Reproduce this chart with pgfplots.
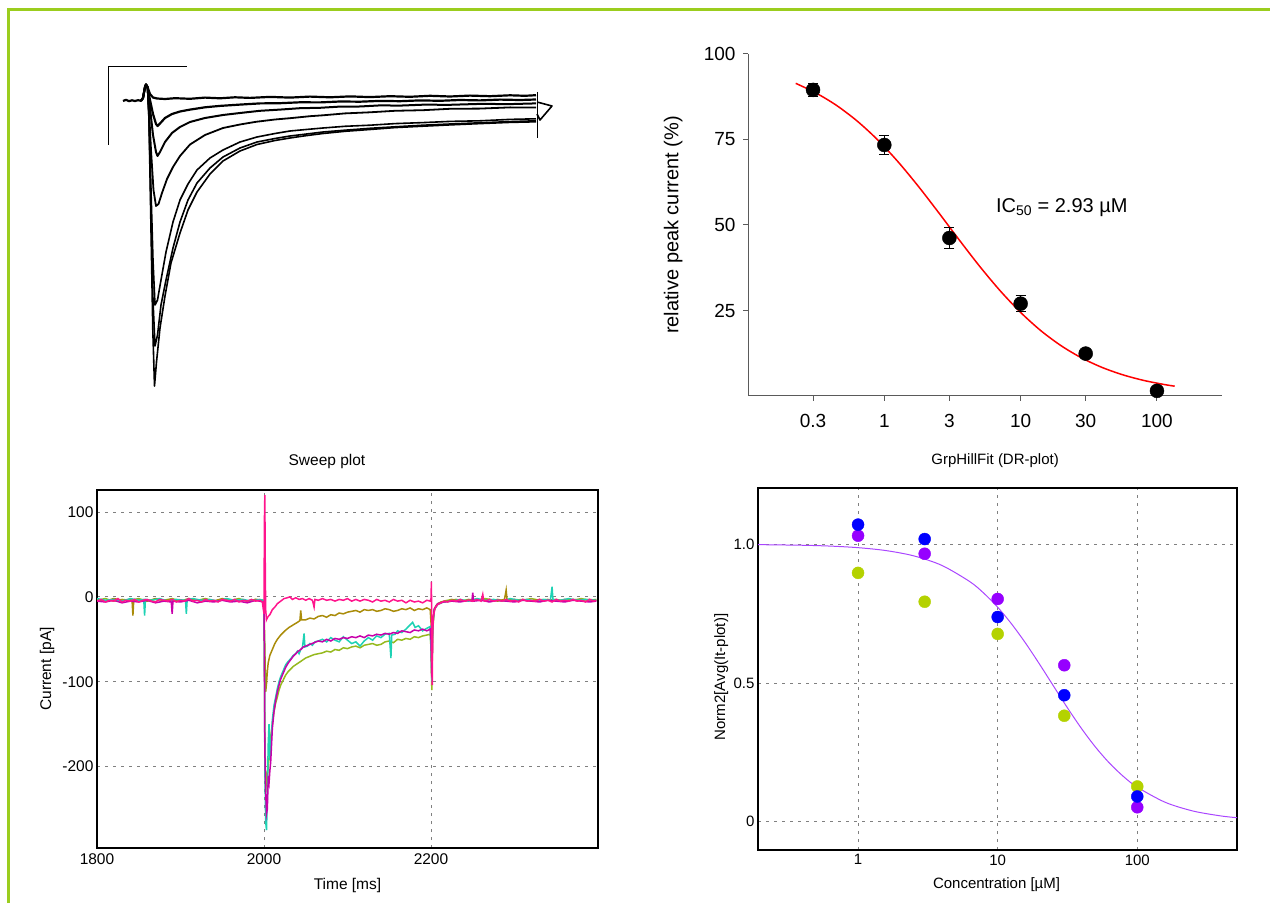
\documentclass[border=0pt]{standalone}
\usepackage{pgfplots}
\pgfplotsset{compat=1.18}
\usepackage{fontspec}
\setmainfont{Liberation Sans}
\definecolor{framegreen}{RGB}{155,205,30}
\definecolor{tpink}{RGB}{255,20,140}
\definecolor{tolive}{RGB}{170,140,10}
\definecolor{tcyan}{RGB}{30,210,180}
\definecolor{tmag}{RGB}{200,0,170}
\definecolor{tgreen}{RGB}{150,185,30}
\definecolor{dblue}{RGB}{0,0,255}
\definecolor{dpurple}{RGB}{150,0,255}
\definecolor{dyg}{RGB}{180,210,0}
\definecolor{fitpurple}{RGB}{170,70,255}
\definecolor{axgray}{RGB}{90,90,90}
\begin{document}
\begin{tikzpicture}
\path[use as bounding box] (0pt,0pt) rectangle (1270pt,903pt);
\draw[framegreen, line width=2.5pt] (8.3pt,0pt) -- (8.3pt,893.5pt) -- (1270pt,893.5pt);

% ---------------- top-left: raw traces (pixel coordinates) ----------------
\begin{axis}[at={(100pt,508pt)}, anchor=south west, scale only axis,
  width=460pt, height=335pt, xmin=100, xmax=560, ymin=60, ymax=395,
  y dir=reverse, hide axis, clip=false]
\addplot[black, line width=1pt] coordinates {(108,145) (108,67) (187,67)};
\addplot[black, line width=2.2pt, line join=round] coordinates {(123,101)(126,99.8)(129,101.2)(132,100.3)(135,101)(138,100.2)(141,100.8)(143,98)(145,87)(146,84.5)(147.5,87)(150,94)(153,97.5)(157,98.5)(165,99)(175,98.2)(190,98.8)(205,97.6)(220,98.3)(235,97.3)(250,97.9)(270,96.9)(290,97.6)(310,96.6)(330,97.3)(350,96.4)(370,97.1)(390,96.2)(410,96.8)(430,95.8)(450,96.5)(470,95.6)(490,96.2)(510,95.3)(525,95.8)(536,95.2)};
\addplot[black, line width=2.2pt, line join=round] coordinates {(141,100.8)(143,98)(145,87)(146,84.5)(147.5,87)(150,100)(153,114)(156,124)(157.5,126)(160,123.5)(165,118)(172,114)(180,111.5)(190,109.6)(205,107.3)(220,105.9)(240,104.6)(260,103.4)(280,103.2)(300,102.3)(320,102.4)(340,101.5)(360,101.7)(380,100.9)(400,101.2)(420,100.4)(440,100.8)(460,100)(480,100.4)(500,99.6)(520,100)(536,99.5)};
\addplot[black, line width=2pt, line join=round] coordinates {(141,100.8)(143,98)(145,87)(146,84.5)(147.5,87)(150,108)(153,135)(156,152)(157.5,156)(160,152)(165,142)(172,133)(180,127)(190,122)(205,118)(223,115)(240,113)(260,110.8)(280,109.6)(300,108.2)(320,107.8)(340,106.6)(360,106.5)(380,105.4)(400,105.6)(423,104.7)(450,104.8)(480,103.9)(510,104.1)(536,103.4)};
\addplot[black, line width=1.8pt, line join=round] coordinates {(141,100.8)(143,98)(145,87)(146,84.5)(147.5,87)(149,110)(151,150)(153.5,190)(156,206)(158.5,204)(162,193)(167,179)(173,167)(180,156)(190,144.5)(205,135)(223,128)(240,124.5)(256,121.8)(275,119.5)(290,118.2)(310,116.2)(323,115.3)(345,113.4)(370,112.3)(395,110.8)(423,110.2)(450,108.8)(480,108.6)(510,107.4)(536,107.5)};
\addplot[black, line width=1.6pt, line join=round] coordinates {(141,100.8)(143,98)(145,87)(146,84.5)(147.5,87)(149,115)(151,190)(153,260)(155,305)(157.5,300)(161,280)(166,252)(173,222)(180,200)(188,184)(197,170)(210,158)(223,150)(240,142)(257,137)(275,133.5)(290,131)(305,129.6)(323,128)(345,126.3)(370,125.2)(395,123.6)(423,122.6)(450,121.4)(480,120.8)(510,119.4)(536,118.8)};
\addplot[black, line width=1.6pt, line join=round] coordinates {(141,100.8)(143,98)(145,87)(146,84.5)(147.5,87)(149,118)(151,210)(153,300)(155,346)(157.5,335)(161,305)(166,280)(173,248)(180,222)(188,200)(197,183)(210,168)(223,157)(240,148)(257,142)(275,138.5)(290,136)(305,134.2)(323,132)(345,130.2)(370,128.3)(395,126.8)(423,125.2)(450,124)(480,122.8)(510,121.6)(536,120.8)};
\addplot[black, line width=1.6pt, line join=round] coordinates {(141,100.8)(143,98)(145,87)(146,84.5)(147.5,87)(149,120)(151,230)(152.8,330)(154.5,386)(156.5,362)(160,328)(165,296)(171,263)(180,233)(188,210)(197,192)(210,174)(223,161)(240,151)(257,144.5)(275,140.5)(290,138)(305,135.8)(323,133.5)(345,131.3)(370,129.5)(395,127.6)(423,126.2)(450,124.9)(480,123.6)(510,122.4)(536,121.8)};
\addplot[black, line width=1pt] coordinates {(537,92)(537,138)};
\addplot[black, line width=1.6pt, line join=round] coordinates {(537,102)(552,106)(540,120)(537,114)};
\end{axis}

% ---------------- top-right: dose response ----------------
\begin{axis}[at={(748pt,507pt)}, anchor=south west, scale only axis,
  width=474pt, height=342pt, xmode=log, xmin=0.1, xmax=300, ymin=0, ymax=100,
  axis x line=bottom, axis y line=left,
  axis line style={axgray, line width=1pt, -},
  xtick={0.3,1,3,10,30,100}, xticklabels={0.3,1,3,10,30,100},
  ytick={25,50,75,100}, yticklabels={25,50,75,100},
  xminorticks=false, tick align=outside, major tick length=5pt,
  tick style={axgray, line width=1pt},
  ticklabel style={font=\fontsize{19}{22}\selectfont},
  xticklabel style={yshift=-10pt},
  yticklabel style={xshift=-4pt},
  /pgf/number format/assume math mode=true,
  clip=false]
\addplot[red, line width=1.5pt, smooth] coordinates {(0.2239,91.42)(0.3162,88.57)(0.4467,84.95)(0.6310,80.42)(0.8913,74.94)(1.2589,68.51)(1.7783,61.29)(2.5119,53.54)(3.5481,45.61)(5.0119,37.89)(7.0795,30.76)(10,24.43)(14.125,19.04)(19.953,14.62)(28.184,11.08)(39.811,8.31)(56.234,6.19)(79.433,4.58)(112.20,3.38)(134.90,2.87)};
\addplot[only marks, mark=*, mark size=7pt, black,
  error bars/.cd, y dir=both, y explicit,
  error bar style={black, line width=1pt},
  error mark options={rotate=90, mark size=5pt, line width=1pt, black}]
  coordinates {(0.3,89.5) +- (0,2.0) (1,73.4) +- (0,2.8) (3,46.2) +- (0,3.2) (10,27.0) +- (0,2.4) (30,12.4) +- (0,0.6) (100,1.5) +- (0,0)};
\node[font=\fontsize{20}{24}\selectfont, rotate=90] at (axis description cs:-0.158,0.5) {relative peak current (\%)};
\node[font=\fontsize{20}{24}\selectfont] at (axis description cs:0.662,0.55) {IC\textsubscript{50} = 2.93 µM};
\end{axis}

% ---------------- bottom-left: sweep plot ----------------
\begin{axis}[at={(97pt,55pt)}, anchor=south west, scale only axis,
  width=501pt, height=358pt, xmin=1800, xmax=2400, ymin=-296, ymax=126,
  xtick={1800,2000,2200}, xticklabels={1800,2000,2200},
  ytick={-200,-100,0,100}, yticklabels={-200,-100,0,100},
  grid=major, grid style={gray, dash pattern=on 3pt off 5pt, line width=0.8pt},
  axis line style={black, line width=1.5pt},
  major tick length=0pt,
  ticklabel style={font=\fontsize{15.5}{18}\selectfont},
  xticklabel style={yshift=-2pt},
  /pgf/number format/assume math mode=true,
  title={Sweep plot}, title style={font=\fontsize{15.5}{18}\selectfont, at={(axis description cs:0.459,1.064)}, anchor=center},
  xlabel={Time [ms]}, xlabel style={font=\fontsize{15.5}{18}\selectfont, at={(axis description cs:0.5,-0.106)}, anchor=center},
  ylabel={Current [pA]}, ylabel style={font=\fontsize{15.5}{18}\selectfont, at={(axis description cs:-0.0998,0.5)}, anchor=center}]
\addplot[tgreen, line width=1.5pt] coordinates {(1800,-4)(1810,-2)(1820,-5)(1830,-3)(1840,-4)(1850,-2)(1860,-5)(1870,-3)(1880,-4)(1890,-2)(1900,-5)(1910,-3)(1920,-4)(1930,-2)(1940,-5)(1950,-3)(1960,-4)(1970,-2)(1980,-5)(1990,-3)(1999,-4)(2000,-10)(2001,-150)(2002,-232)(2003,-210)(2004,-215)(2005,-200)(2006,-190)(2007,-180)(2008,-165)(2010,-150)(2012,-135)(2014,-125)(2016,-118)(2018,-110)(2020,-104)(2023,-98)(2026,-92)(2029,-88)(2032,-85)(2035,-82)(2038,-80)(2041,-78)(2044,-76)(2047,-74)(2050,-72)(2055,-70)(2060,-68)(2065,-67)(2070,-66)(2075,-64)(2080,-65)(2085,-62)(2090,-63)(2095,-60)(2100,-61)(2105,-59)(2110,-58)(2115,-60)(2120,-57)(2125,-56)(2130,-55)(2135,-57)(2140,-56)(2145,-53)(2150,-52)(2155,-54)(2160,-50)(2165,-51)(2170,-49)(2175,-50)(2180,-47)(2185,-48)(2190,-46)(2195,-45)(2199,-44)(2200,-60)(2201,-110)(2202,-40)(2204,-15)(2208,-8)(2215,-5)(2225,-3)(2235,-5)(2245,-3)(2255,-4)(2265,-2)(2275,-4)(2280,-3)(2290,-5)(2300,-3)(2310,-4)(2320,-2)(2330,-4)(2340,-3)(2350,-5)(2360,-3)(2370,-4)(2380,-2)(2390,-4)(2398,-3)};
\addplot[tolive, line width=1.5pt] coordinates {(1800,-3)(1810,-5)(1820,-2)(1830,-4)(1840,-3)(1842,-4)(1843,-22)(1844,-4)(1850,-3)(1860,-5)(1870,-2)(1880,-4)(1890,-3)(1900,-5)(1910,-2)(1920,-4)(1930,-3)(1940,-5)(1950,-2)(1960,-4)(1970,-3)(1980,-5)(1990,-3)(1998,-4)(2000,-8)(2001,-60)(2002,-112)(2003,-102)(2004,-88)(2005,-78)(2007,-69)(2010,-62)(2013,-55)(2016,-50)(2020,-45)(2025,-40)(2030,-36)(2035,-33)(2040,-30)(2043,-28)(2044,-16)(2045,-27)(2050,-27)(2055,-25)(2060,-26)(2065,-23)(2070,-22)(2075,-24)(2080,-21)(2085,-22)(2090,-19)(2095,-20)(2100,-18)(2105,-17)(2110,-16)(2115,-18)(2120,-15)(2125,-16)(2130,-15)(2135,-17)(2140,-16)(2145,-14)(2150,-15)(2155,-17)(2160,-16)(2165,-14)(2170,-15)(2175,-13)(2180,-16)(2185,-14)(2190,-15)(2195,-13)(2199,-15)(2200,-30)(2201,-100)(2202,-32)(2204,-14)(2207,-9)(2212,-6)(2220,-5)(2230,-3)(2240,-5)(2250,-3)(2260,-4)(2270,-3)(2280,-5)(2288,-3)(2290,8)(2291,-3)(2300,-4)(2310,-3)(2320,-5)(2330,-3)(2340,-4)(2350,-3)(2360,-5)(2370,-3)(2380,-4)(2390,-3)(2398,-4)};
\addplot[tcyan, line width=1.5pt] coordinates {(1800,-2)(1810,-4)(1820,-3)(1830,-5)(1840,-2)(1850,-4)(1856,-3)(1857,-22)(1858,-3)(1865,-4)(1875,-2)(1885,-5)(1895,-3)(1906,-4)(1907,-20)(1908,-3)(1915,-2)(1925,-4)(1935,-3)(1945,-5)(1955,-2)(1965,-4)(1975,-3)(1985,-5)(1995,-3)(1999,-4)(2000,-20)(2000.5,-60)(2001,-200)(2002,-265)(2003,-275)(2004,-235)(2005,-175)(2006,-150)(2007,-192)(2008,-185)(2009,-160)(2010,-145)(2012,-128)(2014,-118)(2016,-108)(2018,-100)(2020,-94)(2023,-87)(2026,-80)(2029,-76)(2032,-73)(2035,-69)(2038,-67)(2040,-64)(2042,-67)(2044,-62)(2046,-60)(2048,-43)(2049,-59)(2052,-58)(2055,-55)(2058,-57)(2061,-53)(2065,-52)(2070,-50)(2075,-53)(2080,-48)(2085,-51)(2090,-53)(2095,-47)(2100,-51)(2105,-55)(2110,-53)(2115,-58)(2120,-52)(2125,-48)(2130,-51)(2135,-46)(2140,-48)(2145,-44)(2150,-43)(2152,-72)(2153,-45)(2157,-44)(2160,-40)(2165,-42)(2170,-38)(2175,-33)(2178,-30)(2181,-36)(2185,-34)(2190,-40)(2195,-37)(2199,-35)(2200,-60)(2201,-100)(2202,-35)(2204,-15)(2208,-9)(2215,-6)(2225,-5)(2235,-3)(2245,-5)(2255,-2)(2265,-4)(2275,-3)(2285,-5)(2295,-2)(2305,-4)(2315,-3)(2325,-5)(2335,-3)(2343,-4)(2345,12)(2346,-3)(2355,-4)(2365,-2)(2375,-4)(2385,-3)(2398,-4)};
\addplot[tmag, line width=1.5pt] coordinates {(1800,-5)(1810,-6)(1820,-4)(1830,-7)(1840,-5)(1850,-6)(1860,-4)(1870,-7)(1880,-5)(1889,-6)(1890,-20)(1891,-5)(1900,-6)(1910,-4)(1920,-7)(1930,-5)(1940,-6)(1950,-4)(1960,-6)(1970,-5)(1980,-7)(1990,-4)(1999,-6)(2000,-10)(2000.5,-80)(2001,-180)(2002,-230)(2003,-256)(2004,-250)(2005,-215)(2006,-220)(2007,-205)(2008,-195)(2009,-175)(2010,-155)(2012,-135)(2014,-122)(2016,-112)(2018,-104)(2020,-97)(2023,-90)(2026,-83)(2029,-78)(2032,-74)(2035,-70)(2038,-67)(2041,-64)(2044,-62)(2047,-59)(2050,-58)(2055,-56)(2060,-54)(2065,-52)(2070,-53)(2075,-50)(2080,-52)(2085,-49)(2090,-50)(2095,-48)(2100,-49)(2105,-47)(2110,-48)(2115,-46)(2120,-48)(2125,-45)(2130,-46)(2135,-44)(2140,-45)(2145,-43)(2150,-44)(2155,-42)(2160,-43)(2165,-40)(2170,-41)(2175,-42)(2180,-39)(2185,-40)(2190,-38)(2195,-40)(2199,-38)(2200,-50)(2201,-95)(2202,-30)(2204,-14)(2208,-8)(2215,-6)(2225,-5)(2235,-6)(2245,-4)(2249,-5)(2250,5)(2251,-5)(2260,-4)(2270,-6)(2280,-4)(2290,-5)(2300,-6)(2310,-4)(2320,-5)(2330,-6)(2340,-4)(2350,-5)(2360,-6)(2370,-4)(2380,-5)(2390,-6)(2398,-5)};
\addplot[tpink, line width=1.5pt] coordinates {(1800,-5)(1805,-3)(1810,-6)(1815,-4)(1820,-5)(1825,-2)(1830,-6)(1835,-4)(1840,-5)(1845,-3)(1850,-6)(1855,-4)(1860,-3)(1865,-5)(1870,-6)(1875,-3)(1880,-4)(1885,-5)(1890,-3)(1895,-6)(1900,-4)(1905,-5)(1910,-2)(1915,-5)(1920,-4)(1925,-6)(1930,-3)(1935,-5)(1940,-4)(1945,-6)(1950,-3)(1955,-4)(1960,-5)(1965,-3)(1970,-6)(1975,-4)(1980,-5)(1985,-3)(1990,-5)(1995,-4)(1998,-6)(2000,-20)(2000.5,90)(2001,120)(2001.5,40)(2002,-15)(2003,-27)(2005,-23)(2007,-21)(2010,-15)(2013,-12)(2016,-8)(2020,-5)(2024,-2)(2028,-1)(2031,0)(2034,-3)(2038,-1)(2042,-3)(2046,-2)(2050,-4)(2054,-2)(2058,-4)(2060,-12)(2061,-3)(2065,-4)(2070,-2)(2075,-4)(2080,-3)(2085,-5)(2090,-3)(2095,-4)(2100,-2)(2105,-5)(2110,-3)(2115,-5)(2120,-3)(2125,-4)(2130,-6)(2135,-3)(2140,-5)(2145,-4)(2150,-6)(2155,-3)(2160,-5)(2165,-4)(2170,-7)(2175,-4)(2180,-6)(2185,-5)(2190,-7)(2195,-4)(2199,-5)(2200,-2)(2200.5,18)(2201,-60)(2201.5,-104)(2202,-40)(2203,-22)(2205,-13)(2208,-9)(2212,-7)(2216,-5)(2220,-6)(2225,-4)(2230,-5)(2235,-3)(2240,-5)(2245,-4)(2250,-5)(2255,-3)(2260,-5)(2262,3)(2263,-4)(2265,-5)(2270,-3)(2275,-5)(2280,-4)(2285,-5)(2290,-3)(2295,-5)(2300,-4)(2305,-6)(2310,-3)(2315,-5)(2320,-4)(2325,-5)(2330,-3)(2335,-5)(2340,-4)(2345,-6)(2350,-3)(2355,-5)(2360,-4)(2365,-5)(2370,-3)(2375,-5)(2380,-4)(2385,-6)(2390,-3)(2395,-5)(2398,-4)};
\end{axis}

% ---------------- bottom-right: GrpHillFit ----------------
\begin{axis}[at={(758pt,53pt)}, anchor=south west, scale only axis,
  width=479pt, height=362pt, xmode=log, xmin=0.192, xmax=518, ymin=-0.102, ymax=1.203,
  xtick={1,10,100}, xticklabels={1,10,100}, xminorticks=false,
  ytick={0,0.5,1}, yticklabels={0,0.5,1.0},
  grid=major, grid style={gray, dash pattern=on 3pt off 5pt, line width=0.8pt},
  axis line style={black, line width=1.5pt},
  major tick length=0pt,
  ticklabel style={font=\fontsize{15}{17}\selectfont},
  xticklabel style={yshift=-1pt},
  /pgf/number format/assume math mode=true,
  title={GrpHillFit (DR-plot)}, title style={font=\fontsize{15}{17}\selectfont, at={(axis description cs:0.495,1.058)}, anchor=center},
  xlabel={Concentration [µM]}, xlabel style={font=\fontsize{15}{17}\selectfont, at={(axis description cs:0.498,-0.097)}, anchor=center},
  ylabel={Norm2[Avg(It-plot)]}, ylabel style={font=\fontsize{15}{17}\selectfont, at={(axis description cs:-0.077,0.478)}, anchor=center}]
\addplot[fitpurple, line width=1pt, smooth] coordinates {(0.1905,0.9988)(0.3981,0.9966)(0.6310,0.9936)(1,0.9879)(1.585,0.9774)(2.512,0.9582)(3.981,0.9240)(6.310,0.8656)(7.943,0.8241)(10,0.7732)(12.589,0.7127)(15.849,0.6436)(19.953,0.5679)(25.119,0.4889)(31.623,0.4104)(39.811,0.3363)(50.119,0.2694)(63.096,0.2116)(79.433,0.1634)(100,0.1244)(158.49,0.0700)(251.19,0.0384)(398.11,0.0207)(520,0.0144)};
\addplot[only marks, mark=*, mark size=6pt, dyg] coordinates {(1,0.897)(3,0.793)(10,0.677)(30,0.382)(100,0.127)};
\addplot[only marks, mark=*, mark size=6pt, dpurple] coordinates {(1,1.031)(3,0.966)(10,0.803)(30,0.564)(100,0.052)};
\addplot[only marks, mark=*, mark size=6pt, dblue] coordinates {(1,1.071)(3,1.019)(10,0.738)(30,0.456)(100,0.091)};
\end{axis}
\end{tikzpicture}
\end{document}
